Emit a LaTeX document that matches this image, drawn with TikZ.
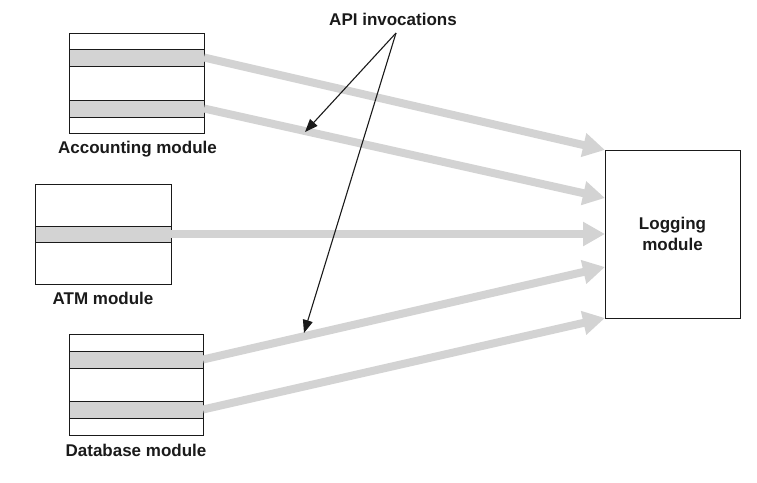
\documentclass[tikz,border=0pt]{standalone}
\usepackage{fontspec}
\setmainfont{Liberation Sans}
\usetikzlibrary{arrows.meta}
\definecolor{lgray}{HTML}{D3D3D3}
\definecolor{ink}{HTML}{1A1A1A}
\begin{document}
\begin{tikzpicture}[x=1pt,y=-1pt,
  lbl/.style={font=\bfseries\fontsize{17}{19}\selectfont, text=ink, inner sep=0pt},
  stripe/.style={fill=lgray, draw=ink, line width=0.8pt},
  frame/.style={draw=ink, line width=0.9pt, inner sep=0pt},
  flow/.style={draw=lgray, line width=8pt, -{Triangle[length=22pt,width=23pt]}},
  callout/.style={draw=ink, line width=1.1pt, -{Triangle[length=13pt,width=10pt]}}]
\useasboundingbox (0,0) rectangle (757,482);

% Accounting module
\draw[stripe] (69,49) rectangle (204,66);
\draw[stripe] (69,100) rectangle (204,117);
\node[frame, minimum width=135pt, minimum height=100pt] (acc) at (136.5,83) {};
\coordinate (acc1) at (204,57.5);
\coordinate (acc2) at (204,108.5);
\node[lbl] (acclbl) at (137.5,149) {Accounting module};

% ATM module
\draw[stripe] (35,226) rectangle (171,242);
\node[frame, minimum width=136pt, minimum height=100pt] (atm) at (103,234) {};
\coordinate (atm1) at (171,234);
\node[lbl] (atmlbl) at (103,298) {ATM module};

% Database module
\draw[stripe] (69,351) rectangle (203,368);
\draw[stripe] (69,401) rectangle (203,418);
\node[frame, minimum width=134pt, minimum height=101pt] (db) at (136,384.5) {};
\coordinate (db1) at (203,359.5);
\coordinate (db2) at (203,409.5);
\node[lbl] (dblbl) at (136,450) {Database module};

% Logging module
\node[frame, minimum width=135pt, minimum height=168pt, align=center,
      font=\bfseries\fontsize{17}{21}\selectfont, text=ink] (log) at (672.5,234) {Logging\\module};
\coordinate (l1) at (605,150);
\coordinate (l2) at (605,198);
\coordinate (l3) at (605,234);
\coordinate (l4) at (605,267);
\coordinate (l5) at (605,318);

% flows
\draw[flow] (acc1) -- (l1);
\draw[flow] (acc2) -- (l2);
\draw[flow] (atm1) -- (l3);
\draw[flow] (db1) -- (l4);
\draw[flow] (db2) -- (l5);

% API invocations
\node[lbl] (api) at (393,19) {API invocations};
\coordinate (apit) at (396,33);
\coordinate (c1) at (305,132);
\coordinate (c2) at (304,333);
\draw[callout] (apit) -- (c1);
\draw[callout] (apit) -- (c2);
\end{tikzpicture}
\end{document}
